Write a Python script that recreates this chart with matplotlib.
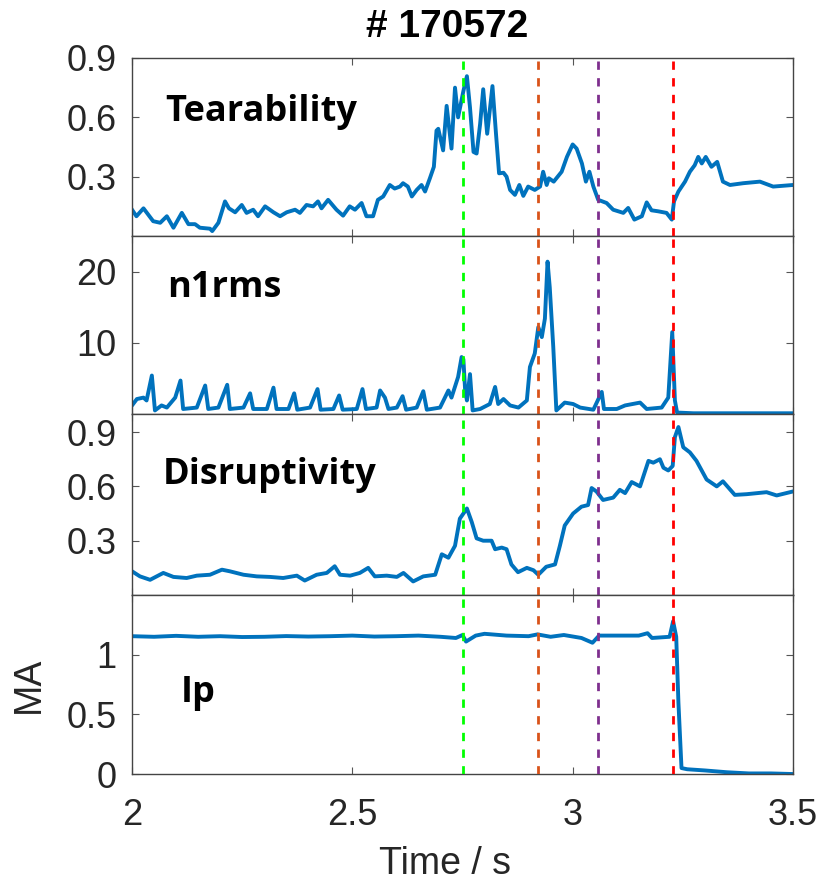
import matplotlib

matplotlib.use("Agg")
import matplotlib.pyplot as plt

BLUE = "#0072BD"
INK = "#262626"

# event markers (s) and their colours
event_times = [2.752, 2.921, 3.057, 3.228]
event_colors = ["#00FF00", "#D95319", "#7E2F8E", "#FF0000"]

tear_t = [2.000, 2.010, 2.026, 2.048, 2.064, 2.079, 2.094, 2.113, 2.128, 2.143,
          2.154, 2.177, 2.182, 2.196, 2.211, 2.220, 2.234, 2.249, 2.260, 2.275,
          2.286, 2.302, 2.321, 2.336, 2.351, 2.370, 2.381, 2.396, 2.411, 2.422,
          2.430, 2.445, 2.464, 2.479, 2.494, 2.506, 2.521, 2.532, 2.547, 2.558,
          2.570, 2.585, 2.596, 2.608, 2.615, 2.626, 2.635, 2.646, 2.657, 2.665,
          2.676, 2.685, 2.691, 2.695, 2.706, 2.714, 2.725, 2.733, 2.740, 2.752,
          2.760, 2.767, 2.775, 2.782, 2.790, 2.797, 2.806, 2.818, 2.826, 2.833,
          2.843, 2.850, 2.858, 2.869, 2.879, 2.888, 2.899, 2.914, 2.926, 2.933,
          2.941, 2.946, 2.957, 2.975, 2.987, 3.000, 3.009, 3.021, 3.030, 3.038,
          3.047, 3.058, 3.077, 3.092, 3.115, 3.126, 3.140, 3.157, 3.168, 3.179,
          3.194, 3.213, 3.225, 3.230, 3.240, 3.255, 3.266, 3.277, 3.285, 3.293,
          3.302, 3.315, 3.328, 3.341, 3.357, 3.387, 3.425, 3.455, 3.500]
tear_v = [0.133, 0.100, 0.140, 0.075, 0.067, 0.100, 0.042, 0.117, 0.060, 0.060,
          0.042, 0.037, 0.025, 0.067, 0.175, 0.140, 0.120, 0.157, 0.117, 0.133,
          0.100, 0.150, 0.120, 0.100, 0.120, 0.133, 0.117, 0.157, 0.150, 0.175,
          0.140, 0.183, 0.133, 0.103, 0.150, 0.133, 0.167, 0.100, 0.100, 0.183,
          0.200, 0.258, 0.240, 0.250, 0.267, 0.250, 0.200, 0.233, 0.258, 0.225,
          0.292, 0.350, 0.533, 0.542, 0.433, 0.658, 0.442, 0.750, 0.600, 0.733,
          0.808, 0.650, 0.425, 0.417, 0.567, 0.742, 0.517, 0.758, 0.517, 0.317,
          0.320, 0.300, 0.233, 0.208, 0.258, 0.203, 0.250, 0.233, 0.250, 0.325,
          0.258, 0.292, 0.275, 0.325, 0.400, 0.463, 0.442, 0.367, 0.275, 0.325,
          0.250, 0.183, 0.167, 0.133, 0.117, 0.142, 0.083, 0.100, 0.170, 0.130,
          0.125, 0.117, 0.083, 0.175, 0.225, 0.275, 0.325, 0.358, 0.400, 0.367,
          0.400, 0.350, 0.375, 0.275, 0.258, 0.267, 0.275, 0.250, 0.258]

n1_t = [2.000, 2.011, 2.026, 2.033, 2.045, 2.052, 2.067, 2.079, 2.098, 2.110,
        2.116, 2.147, 2.166, 2.173, 2.196, 2.216, 2.222, 2.253, 2.268, 2.275,
        2.306, 2.321, 2.328, 2.355, 2.368, 2.375, 2.404, 2.421, 2.428, 2.457,
        2.470, 2.478, 2.510, 2.523, 2.531, 2.555, 2.563, 2.574, 2.582, 2.601,
        2.614, 2.622, 2.646, 2.661, 2.669, 2.699, 2.718, 2.725, 2.740, 2.748,
        2.752, 2.756, 2.760, 2.767, 2.773, 2.790, 2.812, 2.824, 2.831, 2.843,
        2.858, 2.877, 2.896, 2.903, 2.914, 2.922, 2.930, 2.937, 2.943, 2.948,
        2.956, 2.963, 2.982, 3.001, 3.017, 3.047, 3.066, 3.071, 3.100, 3.119,
        3.153, 3.168, 3.202, 3.217, 3.226, 3.232, 3.237, 3.274, 3.500]
n1_v = [1.2, 2.1, 2.3, 1.9, 5.4, 0.5, 1.2, 0.9, 2.3, 4.7,
        0.7, 0.9, 4.0, 0.7, 0.9, 4.1, 0.7, 0.9, 2.9, 0.7,
        0.7, 3.7, 0.7, 0.7, 2.9, 0.6, 0.9, 3.5, 0.6, 0.7,
        2.6, 0.6, 0.7, 3.5, 0.7, 0.9, 3.3, 2.3, 0.7, 0.9,
        2.5, 0.6, 0.9, 3.2, 0.6, 0.9, 3.3, 2.3, 5.2, 8.0,
        7.7, 3.3, 1.9, 5.6, 0.5, 0.7, 1.4, 3.8, 1.4, 2.1,
        1.2, 0.9, 1.9, 6.6, 8.5, 12.2, 10.8, 13.4, 21.4, 17.8,
        9.4, 0.5, 1.6, 1.4, 0.9, 0.6, 3.1, 0.7, 0.7, 1.2,
        1.6, 0.7, 0.9, 2.3, 11.5, 1.9, 0.2, 0.1, 0.1]

dis_t = [2.000, 2.018, 2.041, 2.071, 2.094, 2.124, 2.147, 2.177, 2.204, 2.222,
         2.253, 2.283, 2.313, 2.343, 2.374, 2.392, 2.419, 2.442, 2.460, 2.472,
         2.495, 2.517, 2.536, 2.551, 2.578, 2.601, 2.616, 2.638, 2.661, 2.688,
         2.703, 2.718, 2.733, 2.744, 2.760, 2.771, 2.782, 2.797, 2.816, 2.824,
         2.839, 2.850, 2.861, 2.876, 2.896, 2.911, 2.922, 2.940, 2.960, 2.971,
         2.982, 3.001, 3.020, 3.035, 3.043, 3.054, 3.069, 3.092, 3.107, 3.119,
         3.134, 3.153, 3.172, 3.183, 3.198, 3.206, 3.217, 3.227, 3.232, 3.240,
         3.251, 3.266, 3.281, 3.304, 3.327, 3.341, 3.368, 3.395, 3.440, 3.463,
         3.500]
dis_v = [0.131, 0.103, 0.084, 0.122, 0.100, 0.094, 0.107, 0.112, 0.140, 0.131,
         0.112, 0.103, 0.100, 0.094, 0.107, 0.080, 0.112, 0.122, 0.159, 0.112,
         0.107, 0.122, 0.150, 0.103, 0.107, 0.100, 0.122, 0.075, 0.103, 0.112,
         0.225, 0.206, 0.272, 0.422, 0.478, 0.403, 0.313, 0.300, 0.300, 0.253,
         0.262, 0.253, 0.169, 0.126, 0.150, 0.137, 0.112, 0.156, 0.169, 0.272,
         0.384, 0.450, 0.488, 0.497, 0.591, 0.572, 0.525, 0.538, 0.581, 0.563,
         0.624, 0.600, 0.741, 0.731, 0.750, 0.703, 0.688, 0.713, 0.872, 0.928,
         0.816, 0.788, 0.741, 0.638, 0.600, 0.628, 0.553, 0.557, 0.568, 0.550,
         0.572]

ip_t = [2.000, 2.050, 2.100, 2.150, 2.200, 2.250, 2.300, 2.350, 2.400, 2.450,
        2.500, 2.550, 2.600, 2.650, 2.700, 2.735, 2.750, 2.758, 2.780, 2.800,
        2.850, 2.900, 2.920, 2.950, 2.980, 3.020, 3.045, 3.060, 3.100, 3.150,
        3.170, 3.180, 3.220, 3.228, 3.235, 3.240, 3.247, 3.260, 3.300, 3.350,
        3.400, 3.450, 3.500]
ip_v = [1.155, 1.150, 1.158, 1.150, 1.155, 1.148, 1.150, 1.156, 1.152, 1.155,
        1.160, 1.152, 1.155, 1.160, 1.150, 1.140, 1.165, 1.110, 1.160, 1.175,
        1.160, 1.155, 1.170, 1.150, 1.165, 1.140, 1.100, 1.160, 1.160, 1.160,
        1.180, 1.140, 1.150, 1.280, 1.150, 0.600, 0.050, 0.040, 0.030, 0.015,
        0.005, 0.005, 0.000]

panels = [
    ("Tearability", tear_t, tear_v, (0, 0.9), [0.3, 0.6, 0.9], ["0.3", "0.6", "0.9"], 0.05, 0.646),
    ("n1rms", n1_t, n1_v, (0, 25), [10, 20], ["10", "20"], 0.053, 0.656),
    ("Disruptivity", dis_t, dis_v, (0, 1.0), [0.3, 0.6, 0.9], ["0.3", "0.6", "0.9"], 0.047, 0.613),
    ("Ip", ip_t, ip_v, (0, 1.5), [0, 0.5, 1], ["0", "0.5", "1"], 0.074, 0.403),
]

tick_font = ["Liberation Sans", "DejaVu Sans"]
label_font = ["Open Sans", "Lato", "DejaVu Sans"]

fig = plt.figure(figsize=(8.17, 8.84), dpi=100)
left, right = 0.1616, 0.9706
edges = [0.9344, 0.7330, 0.5317, 0.3269, 0.1244]

axes = []
for i, (name, t, v, ylim, yt, ytl, lx, ly) in enumerate(panels):
    ax = fig.add_axes([left, edges[i + 1], right - left, edges[i] - edges[i + 1]])
    axes.append(ax)
    for et, ec in zip(event_times, event_colors):
        ax.axvline(et, color=ec, lw=2.0, dashes=(3, 3), zorder=3)
    ax.plot(t, v, color=BLUE, lw=2.8, zorder=2)
    ax.set_xlim(2, 3.5)
    ax.set_ylim(*ylim)
    ax.set_yticks(yt)
    ax.set_yticklabels(ytl, family=tick_font, fontsize=26, color=INK)
    ax.set_xticks([2, 2.5, 3, 3.5])
    ax.tick_params(direction="in", length=5, width=0.8, color="#555555",
                   top=True, right=True)
    ax.tick_params(axis="y", pad=11)
    for s in ax.spines.values():
        s.set_color("#444444")
        s.set_linewidth(1.0)
    ax.text(lx, ly, name, transform=ax.transAxes, fontsize=26, fontweight="bold",
            family=label_font, va="baseline", ha="left", color="black")
    if i < 3:
        ax.set_xticklabels([])

bottom = axes[-1]
bottom.set_xticklabels(["2", "2.5", "3", "3.5"], family=tick_font, fontsize=26, color=INK)
bottom.tick_params(axis="x", pad=17)
bottom.set_xlabel("Time / s", family=tick_font, fontsize=27, color=INK)
bottom.xaxis.set_label_coords(0.4735, -0.40)
bottom.set_ylabel("MA", family=tick_font, fontsize=27, color=INK, labelpad=14)

fig.text(0.547, 0.969, "# 170572", ha="center", va="center", fontsize=28,
         fontweight="bold", family=["Liberation Sans", "DejaVu Sans"])

fig.savefig("out.png", dpi=100)
